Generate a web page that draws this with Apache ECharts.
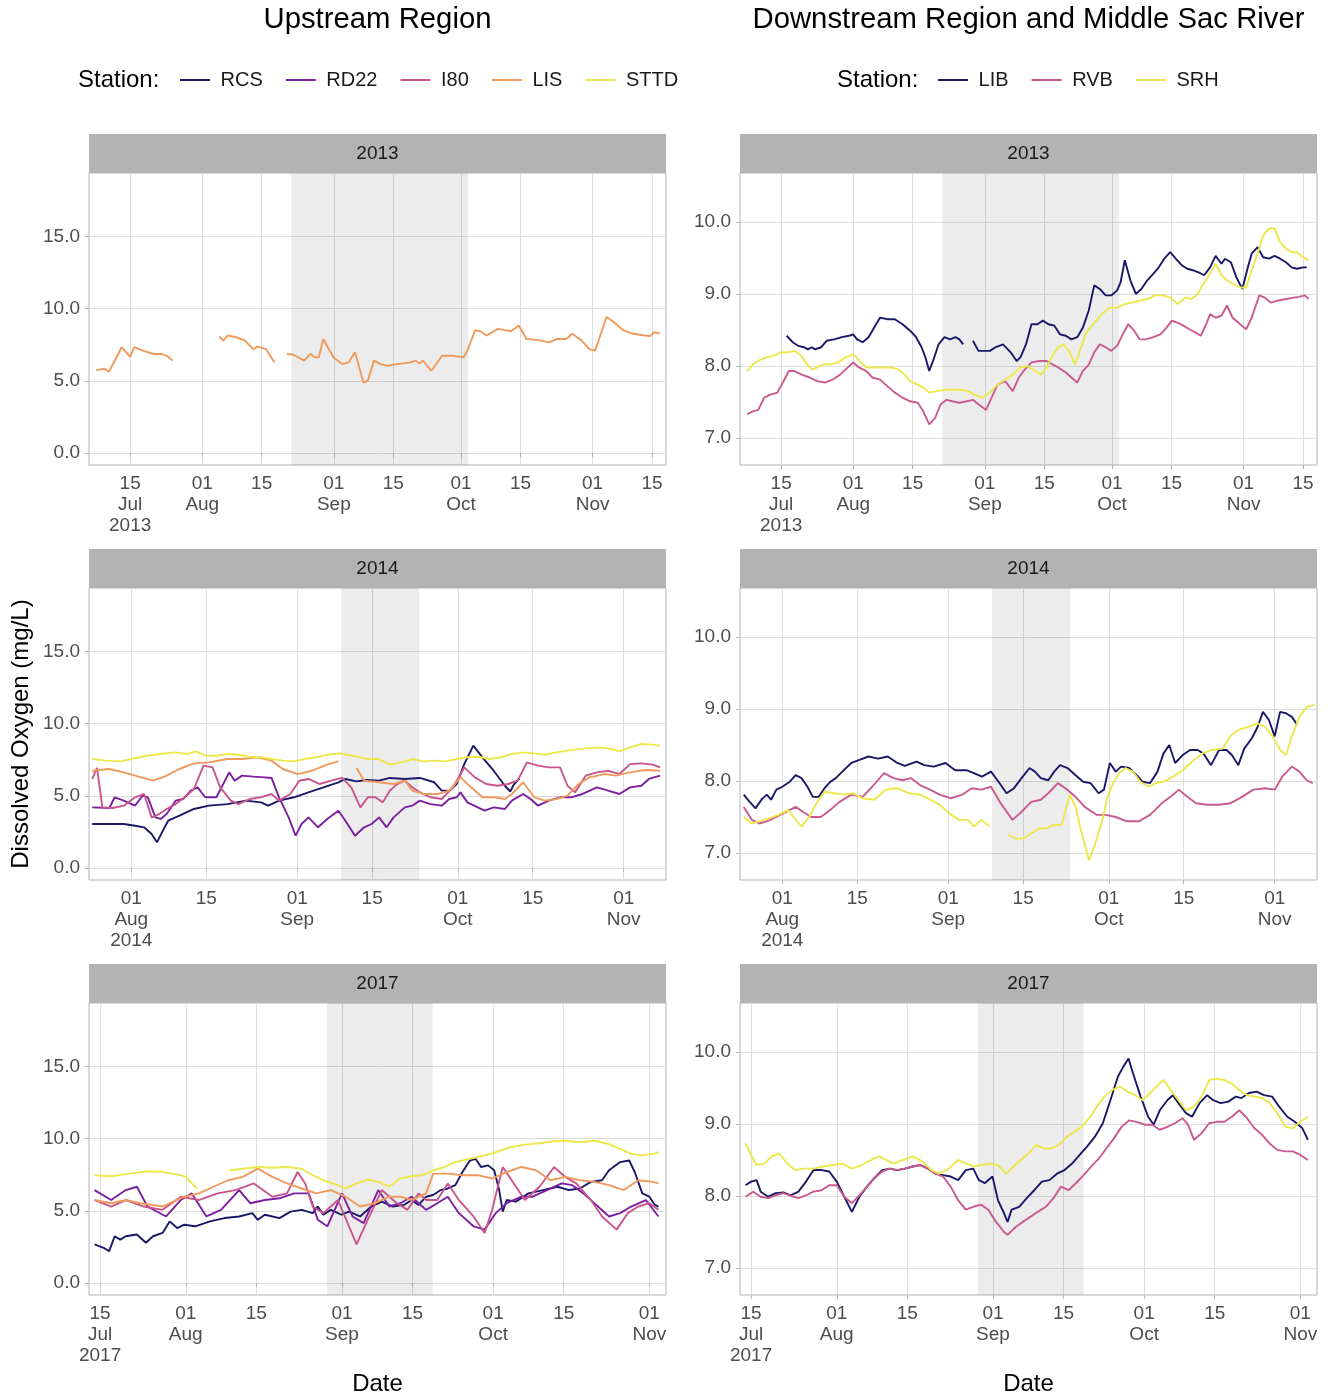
<!DOCTYPE html>
<html><head><meta charset="utf-8">
<script src="https://cdn.jsdelivr.net/npm/echarts@6/dist/echarts.min.js"></script>
<style>html,body{margin:0;padding:0;background:#fff}#c{width:1328px;height:1397px}</style>
</head><body><div id="c"></div>
<script>
// x values are day numbers counted from 30 June of the panel's year (1 = 1 Jul, 32 = 1 Aug, 63 = 1 Sep, 93 = 1 Oct, 124 = 1 Nov)
const years = [2013, 2014, 2017];
const upStations = ['RCS', 'RD22', 'I80', 'LIS', 'STTD'];
const downStations = ['LIB', 'RVB', 'SRH'];
const shadeDays = {2013: [53, 94.7], 2014: [71.2, 85.8], 2017: [60, 81]};
const xRange = {2013: [5.3, 141.3], 2014: [24.1, 131.9], 2017: [12.8, 127.3]};
const xTickDays = {2013: [15, 32, 46, 63, 77, 93, 107, 124, 138], 2014: [32, 46, 63, 77, 93, 107, 124], 2017: [15, 32, 46, 63, 77, 93, 107, 124]};
const upTicks = [0, 5, 10, 15];
const downTicks = [7, 8, 9, 10];
const upRange = [-0.83, 19.4];
const downRange = [6.625, 10.68];

// ---- 2013 ----
const LIS_2013 = [[7,5.74],[9,5.84],[10,5.62],[13,7.33],[15,6.67],[16,7.33],[18,7.1],[20.5,6.86],[22.5,6.86],[24,6.67],[25,6.4],[30,null],[36,8.07],[37,7.8],[38,8.14],[40,8.02],[42,7.8],[44,7.2],[45,7.37],[47,7.2],[49,6.28],[50.5,null],[52,6.86],[53.5,6.81],[56,6.4],[57.5,6.86],[58.5,6.63],[59.5,6.63],[60.5,7.9],[63,6.6],[65,6.16],[66.5,6.28],[68,6.98],[70,4.88],[71,5.0],[72.5,6.4],[74,6.16],[75.5,6.05],[78,6.16],[81,6.28],[82.3,6.4],[83.2,6.2],[84,6.4],[86,5.7],[88.5,6.74],[91,6.74],[93.6,6.63],[94.5,7.1],[96.3,8.5],[97.6,8.44],[99,8.14],[101.7,8.6],[103,8.53],[104.8,8.44],[106.6,8.84],[108.4,7.9],[111,7.84],[113.8,7.67],[115.6,7.9],[117.8,7.9],[119.2,8.26],[121.4,7.8],[123.2,7.2],[124.6,7.1],[127.3,9.42],[129,9.07],[131.3,8.49],[133.6,8.26],[136.3,8.14],[137.6,8.1],[138.5,8.37],[139.8,8.3]];
const LIB_2013 = [[16.3,8.42],[17.7,8.33],[19,8.28],[20.4,8.26],[21.3,8.23],[22.2,8.26],[23,8.23],[24.4,8.26],[25.7,8.35],[27.5,8.37],[29.3,8.4],[31,8.42],[32,8.44],[32.9,8.37],[34.2,8.33],[35.6,8.4],[36.9,8.53],[38.3,8.67],[40,8.65],[41.8,8.65],[43.6,8.58],[45.4,8.49],[46.8,8.4],[48.1,8.26],[49,8.12],[49.9,7.93],[50.8,8.07],[52.1,8.3],[53.5,8.4],[54.8,8.37],[56.1,8.4],[57,8.37],[57.9,8.3],[59,null],[60.2,8.35],[61.5,8.21],[62.9,8.21],[64.2,8.21],[65.5,8.26],[67.3,8.3],[69.1,8.19],[70.5,8.07],[71.4,8.12],[72.7,8.3],[74,8.58],[75.4,8.58],[76.7,8.63],[78,8.58],[79.4,8.56],[80.7,8.44],[82.1,8.42],[83.4,8.37],[84.8,8.4],[86.1,8.53],[87.5,8.77],[88.8,9.12],[90.1,9.07],[91.5,8.98],[92.8,8.98],[94.2,9.05],[95,9.16],[96,9.47],[97.3,9.19],[98.6,9.0],[99.9,9.07],[101.3,9.19],[102.7,9.28],[104,9.37],[105.3,9.49],[106.7,9.58],[108,9.49],[109.4,9.4],[110.7,9.35],[112,9.33],[113.4,9.3],[114.7,9.26],[116.1,9.37],[117.4,9.53],[118.8,9.42],[119.6,9.49],[121,9.44],[122.3,9.23],[123.7,9.07],[125,9.37],[125.9,9.56],[127.3,9.65],[128.6,9.51],[130,9.49],[131.3,9.53],[132.6,9.49],[134,9.44],[135.3,9.37],[136.6,9.35],[138,9.37],[138.9,9.37]];
const RVB_2013 = [[7,7.33],[8.3,7.37],[9.6,7.39],[11,7.56],[12.3,7.6],[14.1,7.63],[15.4,7.77],[16.8,7.93],[18.1,7.93],[19.9,7.88],[21.7,7.84],[23.5,7.79],[25.3,7.77],[27.1,7.81],[28.9,7.88],[30.7,7.98],[32,8.05],[33.3,7.98],[35.1,7.93],[36.5,7.84],[38.3,7.81],[40,7.72],[41.8,7.63],[43.6,7.56],[45.4,7.51],[47.2,7.49],[48.5,7.37],[49.9,7.19],[51.3,7.28],[52.6,7.47],[54,7.53],[55.3,7.51],[57,7.49],[58.8,7.51],[60.2,7.53],[61.5,7.47],[63.3,7.39],[64.6,7.56],[66,7.74],[67.8,7.79],[69.6,7.65],[71,7.84],[72.4,7.95],[74,8.05],[75.8,8.07],[77.6,8.07],[79,8.02],[80.3,7.98],[82.1,7.91],[83.4,7.84],[84.8,7.77],[86.1,7.93],[87.5,8.02],[88.8,8.19],[90.1,8.3],[91.5,8.26],[92.8,8.21],[94.2,8.28],[95.5,8.44],[96.8,8.58],[98.2,8.49],[99.5,8.37],[100.9,8.37],[102.7,8.4],[104.4,8.44],[105.8,8.53],[107.1,8.63],[108.5,8.6],[109.8,8.56],[111.2,8.51],[112.5,8.47],[113.9,8.42],[115.2,8.58],[116.1,8.72],[117.4,8.67],[118.8,8.7],[120.1,8.84],[121.4,8.67],[123.2,8.58],[124.6,8.51],[125.9,8.67],[127.7,8.98],[129,8.95],[130.4,8.88],[132.2,8.91],[134,8.93],[135.8,8.95],[137.1,8.96],[138.4,8.98],[139.3,8.93]];
const SRH_2013 = [[7,7.93],[8.3,8.02],[9.6,8.07],[11.4,8.12],[13.2,8.14],[15,8.19],[16.8,8.19],[18.1,8.21],[19.5,8.16],[20.8,8.05],[22.2,7.95],[23.5,7.98],[24.8,8.02],[26.6,8.02],[28.4,8.05],[30.2,8.12],[32,8.16],[33.8,8.05],[35.1,7.98],[36.9,7.98],[38.7,7.98],[40.9,7.98],[42.7,7.95],[44.1,7.88],[45.4,7.79],[47.2,7.74],[48.5,7.7],[49.9,7.63],[51.7,7.65],[53.5,7.67],[55.3,7.67],[57.1,7.67],[58.9,7.65],[60.6,7.6],[62.4,7.56],[64.2,7.63],[66,7.74],[67.8,7.81],[69.6,7.88],[71.4,7.98],[73.1,8.0],[74.9,7.93],[76.3,7.88],[77.6,7.98],[78.9,8.14],[80.3,8.26],[81.6,8.3],[83,8.19],[84.3,8.02],[85.7,8.26],[87,8.47],[88.8,8.6],[90.6,8.72],[92.4,8.81],[94.2,8.81],[96,8.86],[97.8,8.88],[99.6,8.91],[101.3,8.93],[103.1,8.98],[104.9,8.98],[106.7,8.95],[108.5,8.86],[110.3,8.95],[111.6,8.93],[113,8.98],[114.3,9.12],[116.1,9.28],[117.4,9.42],[118.8,9.26],[120.1,9.19],[121.4,9.14],[123.2,9.09],[124.6,9.09],[125.9,9.33],[127.3,9.56],[128.6,9.81],[130,9.91],[131.3,9.91],[132.6,9.72],[134,9.63],[135.3,9.58],[136.6,9.58],[138,9.51],[139.3,9.47]];

// ---- 2014 ----
const RCS_2014 = [[24.7,3.05],[27.9,3.05],[30.6,3.05],[32.7,2.93],[34.4,2.82],[35.8,2.36],[36.8,1.78],[37.9,2.59],[38.9,3.28],[41,3.63],[43.7,4.09],[46.5,4.32],[50,4.43],[53.4,4.67],[56.2,4.55],[57.6,4.32],[59.6,4.67],[62.4,4.9],[65.1,5.24],[67.9,5.59],[70.7,5.94],[72,6.17],[74,6.0],[76,6.1],[78.3,6.05],[80.3,6.24],[83.1,6.17],[85.9,6.24],[88.6,5.94],[90,5.36],[91.4,5.36],[92.8,5.82],[94.2,7.2],[95.9,8.48],[97.6,7.67],[99.7,6.74],[101.8,5.7],[102.8,5.3],[103.5,5.8],[104.5,6.2]];
const RD22_2014 = [[24.7,4.2],[27.9,4.16],[28.9,4.9],[30.6,4.67],[32.7,4.32],[34.1,5.01],[35.1,4.9],[36.5,3.51],[37.5,3.4],[38.6,3.74],[40.3,4.67],[41.7,4.78],[43.1,5.36],[44.4,5.59],[45.8,4.9],[47.9,4.9],[50.3,6.63],[51.3,6.05],[52.7,6.4],[54.8,6.33],[56.9,6.28],[58.2,6.24],[59.6,4.9],[61.4,3.51],[62.7,2.24],[63.8,3.05],[65.1,3.51],[66.9,2.82],[68.6,3.4],[70.7,3.97],[72,3.28],[73.8,2.24],[75.5,2.82],[76.9,3.05],[78.3,3.51],[79.7,2.82],[81,3.51],[83.1,4.2],[84.5,4.32],[85.9,4.67],[87.9,4.43],[90,4.32],[91.4,4.78],[92.8,4.9],[93.5,5.24],[94.8,4.55],[98,3.97],[99.7,4.2],[101.8,4.09],[103.1,4.67],[105.2,5.13],[106.6,4.78],[108,4.32],[110,4.67],[112.1,4.9],[114.2,4.9],[116.3,5.13],[119,5.59],[121.1,5.36],[123.2,5.13],[125.2,5.59],[127.3,5.7],[128.7,6.17],[130.8,6.4]];
const I80_2014 = [[24.7,6.17],[25.6,6.93],[26.6,4.2],[28.5,4.16],[30.6,4.32],[32.7,4.9],[34.4,5.13],[35.8,3.51],[37.2,3.74],[38.6,4.09],[40.3,4.43],[42,4.9],[43.7,5.47],[45.5,7.09],[47.2,6.97],[48.6,5.59],[50.6,4.67],[52,4.43],[54.1,4.78],[56.2,4.9],[58.2,5.13],[59.6,4.67],[61.7,5.13],[63.4,6.05],[65.1,6.17],[67.2,5.82],[69.3,6.05],[71.4,6.24],[73.1,5.59],[74.8,4.2],[76.2,4.9],[77.6,4.9],[79,4.55],[80.3,5.36],[81.7,5.82],[83.1,6.05],[84.5,5.59],[85.9,5.24],[87.9,4.9],[90,4.78],[92.1,5.59],[94.2,6.97],[96.2,6.28],[98.3,5.82],[100.4,5.7],[102.4,5.82],[104.2,6.05],[105.9,7.32],[108,7.09],[110,6.97],[112.1,6.97],[113.5,5.7],[114.9,5.24],[116.9,6.4],[119,6.63],[121.1,6.74],[123.2,6.51],[125.2,7.2],[127.3,7.25],[129.4,7.16],[130.8,6.97]];
const LIS_2014 = [[24.7,6.74],[27.9,6.86],[30.6,6.63],[33.4,6.33],[36.1,6.05],[38.2,6.33],[41,6.86],[43.7,7.25],[46.5,7.32],[50,7.55],[52.7,7.55],[55.5,7.67],[58.2,7.44],[60.3,6.86],[63.1,6.51],[65.8,6.74],[68.6,7.16],[70.7,7.39],[72.5,null],[74.1,6.93],[75.5,6.05],[78.3,5.94],[81,5.82],[83.1,6.05],[84.5,5.36],[86.6,5.13],[89.3,5.13],[91.4,5.36],[93.5,6.28],[95.5,5.59],[97.6,4.9],[99.7,4.9],[101.8,4.78],[103.1,5.13],[105.2,5.94],[107.3,4.9],[109.3,4.67],[111.4,4.78],[113.5,5.01],[115.6,5.82],[117.6,6.28],[120.4,6.51],[122.5,6.4],[125.2,6.63],[128,6.79],[130.8,6.74]];
const STTD_2014 = [[24.7,7.55],[27.2,7.44],[30,7.39],[32,7.55],[34.8,7.78],[37.5,7.9],[40.3,8.01],[42.4,7.9],[44.1,8.08],[45.8,7.78],[47.9,7.78],[50,7.9],[52,7.85],[54.1,7.71],[56.2,7.67],[58.2,7.55],[60.3,7.44],[62.4,7.39],[64.5,7.55],[66.5,7.67],[68.6,7.85],[71,7.94],[73.4,7.78],[76.2,7.55],[78.3,7.55],[80.3,7.16],[82.4,7.32],[84.5,7.55],[86.6,7.39],[88.6,7.44],[90.7,7.39],[92.8,7.55],[94.8,7.67],[96.9,7.71],[99,7.55],[101.1,7.67],[103.1,7.9],[105.2,8.01],[107.3,7.94],[109.3,7.85],[111.4,8.01],[113.5,8.13],[115.6,8.24],[117.6,8.31],[119.7,8.36],[121.8,8.24],[123.2,8.08],[125.2,8.36],[127.3,8.59],[129.4,8.55],[130.8,8.48]];
const LIB_2014 = [[24.8,7.81],[25.9,7.71],[27,7.62],[28.1,7.74],[29.1,7.81],[29.9,7.74],[30.9,7.88],[32,7.92],[33.4,7.99],[34.5,8.08],[35.6,8.04],[36.7,7.92],[37.7,7.78],[38.8,7.78],[39.9,7.9],[41,7.99],[42,8.04],[43.5,8.15],[44.9,8.25],[46.3,8.29],[48.1,8.34],[49.9,8.31],[51.7,8.34],[53.5,8.25],[54.9,8.21],[57.1,8.27],[58.5,8.22],[60.3,8.2],[62.5,8.25],[64.3,8.15],[66.4,8.15],[67.8,8.11],[69.3,8.06],[71,8.13],[72.4,7.99],[73.9,7.83],[75.3,7.9],[76.7,8.04],[78.2,8.18],[79.2,8.13],[80.3,8.04],[81.7,8.01],[82.8,8.13],[83.9,8.22],[85.3,8.18],[86.8,8.08],[88.2,7.99],[89.6,7.97],[91.1,7.83],[92.1,7.88],[93.2,8.25],[94.3,8.13],[95.3,8.2],[96.8,8.18],[98.2,8.08],[99.3,7.99],[100.7,7.97],[102.1,8.13],[103.2,8.38],[104.3,8.5],[105.4,8.25],[106.8,8.36],[108.2,8.43],[109.6,8.43],[110.7,8.38],[112.1,8.22],[113.6,8.43],[115,8.43],[116,8.36],[117.2,8.22],[118.3,8.45],[119.7,8.59],[120.8,8.75],[121.8,8.96],[122.9,8.85],[124,8.62],[125,8.96],[126.1,8.94],[127.2,8.89],[128.2,8.78]];
const RVB_2014 = [[24.8,7.64],[26.3,7.46],[27.7,7.41],[29.1,7.44],[30.9,7.5],[32.7,7.57],[34.5,7.64],[35.9,7.57],[37.4,7.5],[39.2,7.5],[41,7.6],[42.7,7.71],[44.9,7.81],[47,7.78],[48.8,7.92],[51,8.11],[52.8,8.04],[54.5,8.01],[56,8.04],[57.8,7.94],[59.6,7.88],[61.4,7.81],[63.5,7.76],[65.6,7.81],[67.4,7.9],[69.2,7.88],[71,7.92],[72.8,7.69],[75,7.46],[76.7,7.57],[78.5,7.71],[80.3,7.74],[81.7,7.83],[83.5,7.97],[84.9,7.9],[86.8,7.78],[88.5,7.64],[90.7,7.53],[92.5,7.53],[94.3,7.5],[96.4,7.44],[98.6,7.44],[100.7,7.53],[102.9,7.69],[105,7.81],[106.1,7.88],[107.2,7.81],[109.3,7.69],[111.4,7.67],[113.6,7.67],[115.7,7.69],[117.9,7.78],[120,7.88],[122.2,7.9],[124,7.88],[125.4,8.06],[127.2,8.2],[128.6,8.13],[130,8.01],[131.1,7.97]];
const SRH_2014 = [[24.8,7.5],[26.3,7.41],[27.7,7.44],[29.5,7.48],[31.3,7.53],[33.1,7.6],[34.5,7.46],[35.6,7.37],[37,7.5],[38.4,7.69],[39.9,7.85],[41.7,7.83],[43.5,7.81],[45.2,7.83],[47,7.76],[49.2,7.74],[51.3,7.88],[53.5,7.9],[55.6,7.83],[57.8,7.81],[59.6,7.74],[61.4,7.67],[63.2,7.55],[65,7.46],[66.7,7.46],[67.8,7.37],[69.2,7.46],[70.7,7.37],[72.5,null],[74.2,7.25],[75.7,7.2],[77.1,7.2],[78.5,7.27],[79.9,7.34],[81.3,7.34],[82.7,7.39],[84.2,7.39],[85.7,7.81],[86.8,7.64],[87.8,7.32],[89.3,6.9],[90.3,7.09],[91.8,7.46],[92.8,7.78],[93.9,7.99],[95,8.11],[96.1,8.18],[97.5,8.13],[98.9,7.99],[100.4,7.92],[101.8,7.97],[103.2,7.99],[105,8.06],[106.8,8.15],[108.6,8.27],[110.4,8.38],[112.1,8.43],[114.3,8.45],[115.7,8.62],[117.2,8.71],[119,8.75],[120.8,8.8],[122.2,8.75],[123.6,8.62],[125,8.43],[126.1,8.36],[127.2,8.62],[128.6,8.89],[130,9.03],[131.5,9.06]];

// ---- 2017 ----
const RCS_2017 = [[13.9,2.67],[15.7,2.44],[16.8,2.21],[17.9,3.24],[19,3.01],[20.1,3.24],[22.3,3.36],[24.1,2.79],[25.5,3.24],[27.4,3.47],[28.8,4.27],[30.3,3.81],[31.7,4.04],[33.9,3.93],[36.8,4.27],[39.7,4.5],[42.6,4.61],[45.2,4.84],[46.3,4.38],[47.7,4.73],[50.6,4.5],[52.8,4.95],[55,5.07],[57.2,4.84],[58.2,5.3],[59.3,4.73],[60.8,5.07],[62.9,4.73],[64.4,4.95],[66.6,4.61],[68.8,5.3],[70.9,5.64],[73.1,5.3],[75.3,5.41],[76.8,5.75],[78.2,5.41],[79.7,5.98],[81.1,6.1],[82.6,6.44],[84,6.55],[85.5,6.78],[86.9,7.69],[88.4,8.49],[89.5,8.61],[90.6,8.04],[92,8.15],[93.2,7.81],[94.2,6.44],[94.9,4.95],[95.7,5.75],[97.5,5.64],[100,6.21],[102.9,6.44],[105.8,6.67],[108,6.44],[110.2,6.55],[112.4,7.01],[114.6,7.12],[116,7.81],[118.2,8.38],[120,8.49],[121.1,7.69],[122.6,6.21],[124,5.98],[125.1,5.41],[125.8,5.3]];
const RD22_2017 = [[13.9,6.44],[17.2,5.75],[20.1,6.44],[22.3,6.67],[24.4,5.3],[28.1,4.61],[31,5.75],[33.2,6.21],[36.1,4.61],[39,5.07],[42.6,6.44],[44.8,5.53],[47.7,5.75],[50.6,5.87],[53.5,6.21],[56.4,6.21],[58.2,4.38],[60.1,3.93],[63,6.21],[65.1,4.61],[67.3,4.15],[70.2,6.44],[72.4,5.3],[74.6,5.53],[76.8,5.98],[78.2,5.53],[79.7,5.07],[81.9,5.53],[84,5.98],[86.2,4.84],[89.1,3.93],[91.3,3.7],[93.5,4.84],[95.7,5.53],[98.6,5.98],[100.8,5.98],[103.7,6.44],[106.6,6.9],[108.7,6.78],[110.9,6.21],[113.8,5.3],[116,4.61],[118.2,4.84],[120.4,5.3],[123.3,5.75],[125.8,4.61]];
const I80_2017 = [[13.9,5.75],[17.2,5.3],[20.1,5.75],[23.7,5.3],[27.4,5.07],[31,5.98],[34.6,5.75],[38.3,6.21],[41.9,6.44],[45.5,6.9],[49.2,5.98],[52.1,6.21],[54.2,7.69],[55.7,6.9],[57.2,5.3],[59.3,4.84],[62.2,5.75],[65.9,2.67],[68.1,4.38],[70.9,6.44],[73.9,5.53],[76,5.07],[78.2,6.21],[79.7,5.75],[81.9,5.75],[84,6.9],[86.2,5.75],[89.1,4.61],[91.3,3.47],[92.8,5.07],[94.9,8.04],[97.1,6.9],[99.3,5.75],[102.2,6.67],[105.1,8.04],[107.3,7.35],[109.5,6.9],[112.4,5.75],[114.6,4.61],[117.5,3.7],[119.7,4.84],[121.8,5.3],[124,5.53],[125.8,5.07]];
const LIS_2017 = [[13.9,5.75],[17.2,5.53],[20.1,5.75],[23,5.53],[27.4,5.3],[31.7,5.98],[34.6,6.21],[37.5,6.67],[40.4,7.12],[43.3,7.35],[46.3,7.92],[49.2,7.35],[52.1,6.9],[55,6.55],[57.9,6.21],[60.8,6.44],[63.7,5.98],[66.6,5.3],[69.5,5.53],[72.4,5.98],[74.6,5.98],[76.8,5.75],[79.7,6.21],[81.1,7.58],[84,7.58],[86.9,7.47],[89.9,7.47],[92.8,7.24],[95.7,7.69],[98.6,8.04],[101.5,7.81],[104.4,7.12],[107.3,7.35],[110.2,7.12],[113.1,7.01],[116,6.78],[118.9,6.44],[121.8,7.12],[124.7,7.01],[125.8,6.9]];
const STTD_2017 = [[13.9,7.47],[17.2,7.4],[20.8,7.58],[24.4,7.74],[27.4,7.69],[30.3,7.53],[32.1,7.35],[33.2,6.9],[34.3,6.55],[37,null],[40.8,7.81],[43.3,7.92],[46.3,8.04],[49.2,7.99],[52.1,8.04],[55,7.92],[57.2,7.47],[59.3,7.12],[62.2,6.78],[63.7,6.55],[65.9,6.9],[68.1,7.17],[70.2,7.01],[72.4,6.67],[74.6,7.24],[76.8,7.4],[78.9,7.47],[81.1,7.81],[83.3,8.04],[85.5,8.38],[88.4,8.61],[91.3,8.84],[93.5,9.06],[96.4,9.41],[99.3,9.59],[102.2,9.68],[105.1,9.82],[107.3,9.86],[110.2,9.75],[113.1,9.86],[116,9.63],[118.2,9.29],[120.4,8.95],[122.6,8.84],[124.8,8.95],[125.8,9.06]];
const LIB_2017 = [[13.9,8.15],[15,8.2],[16.1,8.22],[16.9,8.06],[18.4,7.99],[19.9,8.04],[21.4,8.05],[22.9,8.01],[24.4,8.06],[25.9,8.2],[27.4,8.36],[29,8.36],[30.5,8.34],[32,8.2],[33.5,7.99],[35,7.78],[36.5,7.99],[38,8.13],[39.5,8.25],[41,8.36],[42.5,8.38],[44,8.36],[45.5,8.38],[47.1,8.41],[48.6,8.43],[50.1,8.38],[51.6,8.31],[53.1,8.29],[54.6,8.27],[56.1,8.22],[57.6,8.36],[59.1,8.38],[60.2,8.22],[61.4,8.18],[62.9,8.27],[64,7.94],[65.2,7.76],[65.9,7.64],[66.7,7.81],[68.2,7.85],[69.7,7.97],[71.2,8.08],[72.7,8.2],[74.2,8.22],[75.7,8.31],[77.2,8.36],[78.7,8.45],[80.2,8.57],[81.7,8.69],[83.2,8.82],[84.8,9.01],[86.3,9.33],[87.8,9.66],[88.9,9.8],[89.9,9.91],[90.8,9.7],[92.3,9.38],[93.8,9.1],[94.9,8.99],[96.1,9.19],[97.6,9.33],[98.7,9.4],[99.8,9.29],[101.3,9.15],[102.5,9.1],[104,9.29],[105.5,9.4],[106.7,9.33],[108.2,9.29],[109.7,9.31],[111.2,9.38],[112.3,9.36],[113.8,9.43],[115.3,9.45],[116.8,9.4],[118.4,9.38],[119.8,9.24],[121.4,9.1],[122.9,9.03],[124.4,8.94],[125.5,8.78]];
const RVB_2017 = [[13.9,7.99],[15.4,8.06],[16.9,7.99],[18.4,7.97],[19.9,8.01],[21.4,8.04],[22.9,8.0],[24.4,7.97],[25.9,8.01],[27.4,8.06],[29,8.08],[30.5,8.15],[32,8.15],[33.5,7.99],[35,7.9],[36.5,8.01],[38,8.13],[39.5,8.25],[41,8.34],[42.5,8.38],[44,8.36],[45.5,8.38],[47.1,8.41],[48.6,8.43],[50.1,8.38],[51.6,8.31],[53.1,8.27],[54.6,8.13],[56.1,7.94],[57.6,7.81],[59.1,7.85],[60.6,7.88],[62.1,7.81],[63.6,7.64],[65.2,7.5],[65.9,7.46],[67.5,7.57],[68.9,7.64],[70.4,7.71],[71.9,7.78],[73.5,7.85],[75,7.97],[76.5,8.13],[78,8.08],[79.5,8.18],[81,8.29],[82.5,8.41],[84,8.52],[85.5,8.66],[87,8.8],[88.5,8.96],[90,9.05],[91.5,9.03],[93.1,8.99],[94.6,8.99],[96.1,8.92],[97.6,8.96],[99.1,9.01],[100.6,9.08],[101.7,8.99],[102.9,8.78],[104.4,8.87],[105.9,9.01],[107.4,9.03],[108.9,9.03],[110.4,9.1],[111.9,9.19],[113.4,9.08],[114.9,8.94],[116.4,8.85],[117.9,8.73],[119.4,8.64],[121,8.62],[122.5,8.62],[124,8.57],[125.5,8.5]];
const SRH_2017 = [[13.9,8.73],[15,8.57],[16.1,8.43],[17.6,8.45],[19.1,8.55],[20.6,8.59],[22.2,8.45],[23.7,8.36],[25.6,8.38],[27.4,8.38],[29.3,8.41],[31.2,8.43],[33.1,8.45],[35,8.38],[36.9,8.43],[38.8,8.5],[40.3,8.55],[41.8,8.5],[43.3,8.45],[45.2,8.5],[47.1,8.55],[49,8.48],[50.8,8.36],[52.3,8.31],[54.2,8.38],[56.1,8.5],[57.6,8.45],[59.1,8.41],[60.6,8.43],[62.5,8.45],[64,8.43],[65.6,8.31],[67.1,8.41],[68.5,8.5],[70,8.59],[71.6,8.71],[73.1,8.66],[74.6,8.66],[76.1,8.71],[77.6,8.82],[79.1,8.89],[80.6,8.96],[82.1,9.08],[83.6,9.24],[85.1,9.38],[86.6,9.47],[88.2,9.52],[89.7,9.45],[91.2,9.4],[92.7,9.33],[94.2,9.43],[95.7,9.54],[96.8,9.61],[98.3,9.47],[99.8,9.33],[101.3,9.19],[102.9,9.24],[104.4,9.38],[105.9,9.61],[107.4,9.63],[108.9,9.61],[110.4,9.56],[111.9,9.47],[113.4,9.4],[114.9,9.38],[116.4,9.36],[117.9,9.29],[119.4,9.15],[121,8.96],[122.5,8.94],[124,9.03],[125.5,9.1]];

// ---- panel membership ----
const panels = [
  {year: 2013, side: 0, data: {LIS: LIS_2013}},
  {year: 2013, side: 1, data: {LIB: LIB_2013, RVB: RVB_2013, SRH: SRH_2013}},
  {year: 2014, side: 0, data: {RCS: RCS_2014, RD22: RD22_2014, I80: I80_2014, LIS: LIS_2014, STTD: STTD_2014}},
  {year: 2014, side: 1, data: {LIB: LIB_2014, RVB: RVB_2014, SRH: SRH_2014}},
  {year: 2017, side: 0, data: {RCS: RCS_2017, RD22: RD22_2017, I80: I80_2017, LIS: LIS_2017, STTD: STTD_2017}},
  {year: 2017, side: 1, data: {LIB: LIB_2017, RVB: RVB_2017, SRH: SRH_2017}}
];

// ---- styling / layout ----
const colors = {RCS: '#1b1768', RD22: '#7b1fa0', I80: '#c8568c', LIS: '#ef9a5c', STTD: '#ece84c',
                LIB: '#1b1768', RVB: '#c95a8f', SRH: '#ece84c'};
const FONT = '"Liberation Sans", Arial, sans-serif';
const colLeft = [89, 740], panelW = 577;
const rowTop = [173, 588, 1003], panelH = 292, stripH = 39;
const MON = ['Jan','Feb','Mar','Apr','May','Jun','Jul','Aug','Sep','Oct','Nov','Dec'];

function dayDate(year, d) { return new Date(Date.UTC(year, 5, 30) + Math.round(d) * 864e5); }
function xFormatter(year, ticks) {
  return function (v) {
    const dt = dayDate(year, v);
    const day = dt.getUTCDate();
    let s = String(day).padStart(2, '0');
    if (Math.abs(v - ticks[0]) < 1e-6) s += '\n' + MON[dt.getUTCMonth()] + '\n' + year;
    else if (day === 1) s += '\n' + MON[dt.getUTCMonth()];
    return s;
  };
}

const grids = [], xAxes = [], yAxes = [], series = [], graphics = [];
panels.forEach((p, i) => {
  const r = years.indexOf(p.year), c = p.side;
  grids.push({left: colLeft[c], top: rowTop[r], width: panelW, height: panelH, show: true,
              borderColor: '#B3B3B3', borderWidth: 1, backgroundColor: 'transparent', containLabel: false});
  const ticks = xTickDays[p.year];
  xAxes.push({type: 'value', gridIndex: i, min: xRange[p.year][0], max: xRange[p.year][1],
    axisLine: {show: false},
    axisTick: {show: true, length: 4, lineStyle: {color: '#B3B3B3'}, customValues: ticks},
    axisLabel: {customValues: ticks, formatter: xFormatter(p.year, ticks), fontSize: 19, lineHeight: 21,
                color: '#4D4D4D', margin: 8, fontFamily: FONT},
    splitLine: {show: true, lineStyle: {color: '#DEDEDE', width: 1}},
    name: r === 2 ? 'Date' : '', nameLocation: 'middle', nameGap: 77,
    nameTextStyle: {fontSize: 24, color: '#000', fontFamily: FONT}});
  const yt = c === 0 ? upTicks : downTicks;
  const yr = c === 0 ? upRange : downRange;
  yAxes.push({type: 'value', gridIndex: i, min: yr[0], max: yr[1],
    axisLine: {show: false},
    axisTick: {show: true, length: 4, lineStyle: {color: '#B3B3B3'}, customValues: yt},
    axisLabel: {customValues: yt, formatter: v => v.toFixed(1), fontSize: 19, color: '#4D4D4D', margin: 9, fontFamily: FONT},
    splitLine: {show: true, lineStyle: {color: '#DEDEDE', width: 1}},
    name: (r === 1 && c === 0) ? 'Dissolved Oxygen (mg/L)' : '', nameLocation: 'middle', nameGap: 56, nameRotate: 90,
    nameTextStyle: {fontSize: 24, color: '#000', fontFamily: FONT}});
  const order = c === 0 ? upStations : downStations;
  let first = true;
  order.forEach(st => {
    if (!p.data[st]) return;
    const s = {type: 'line', name: st, xAxisIndex: i, yAxisIndex: i, symbol: 'none', showSymbol: false,
      connectNulls: false, animation: false, silent: true,
      data: p.data[st].map(q => [q[0], q[1] === null ? '-' : q[1]]),
      lineStyle: {color: colors[st], width: 1.9}, itemStyle: {color: colors[st]},
      emphasis: {disabled: true}};
    if (first) {
      s.markArea = {silent: true, itemStyle: {color: 'rgba(0,0,0,0.075)'},
        data: [[{xAxis: shadeDays[p.year][0]}, {xAxis: shadeDays[p.year][1]}]]};
      first = false;
    }
    series.push(s);
  });
  // facet strip
  graphics.push({type: 'rect', silent: true, shape: {x: colLeft[c], y: rowTop[r] - stripH, width: panelW, height: stripH},
                 style: {fill: '#B3B3B3'}});
  graphics.push({type: 'text', silent: true, x: colLeft[c] + panelW / 2, y: rowTop[r] - stripH / 2,
                 style: {text: String(p.year), fill: '#1A1A1A', font: '19px ' + FONT, textAlign: 'center', textVerticalAlign: 'middle'}});
});

graphics.push({type: 'text', silent: true, x: colLeft[0] + panelW / 2, y: 20,
  style: {text: 'Upstream Region', fill: '#000', font: '29.3px ' + FONT, textAlign: 'center', textVerticalAlign: 'middle'}});
graphics.push({type: 'text', silent: true, x: colLeft[1] + panelW / 2, y: 20,
  style: {text: 'Downstream Region and Middle Sac River', fill: '#000', font: '29.3px ' + FONT, textAlign: 'center', textVerticalAlign: 'middle'}});
graphics.push({type: 'text', silent: true, x: 78, y: 80,
  style: {text: 'Station:', fill: '#000', font: '24px ' + FONT, textAlign: 'left', textVerticalAlign: 'middle'}});
graphics.push({type: 'text', silent: true, x: 837, y: 80,
  style: {text: 'Station:', fill: '#000', font: '24px ' + FONT, textAlign: 'left', textVerticalAlign: 'middle'}});

const legendCommon = {orient: 'horizontal', top: 70, padding: 0, icon: 'rect', itemWidth: 30, itemHeight: 2, itemGap: 23,
  selectedMode: false, formatter: n => ' ' + n, textStyle: {fontSize: 20, color: '#1A1A1A', fontFamily: FONT}};

const option = {
  animation: false,
  backgroundColor: '#fff',
  textStyle: {fontFamily: FONT},
  grid: grids, xAxis: xAxes, yAxis: yAxes, series: series,
  legend: [Object.assign({left: 180, data: upStations}, legendCommon),
           Object.assign({left: 938, data: downStations}, legendCommon)],
  graphic: graphics
};
const chart = echarts.init(document.getElementById('c'), null, {renderer: 'canvas', width: 1328, height: 1397});
chart.setOption(option);
</script>
</body></html>
